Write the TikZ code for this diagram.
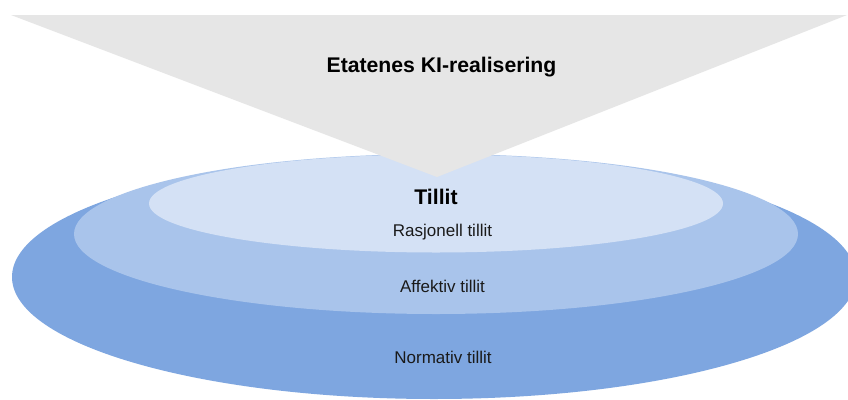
\documentclass[tikz,border=0pt]{standalone}
\usepackage{fontspec}
\setmainfont{Liberation Sans}
\usetikzlibrary{shapes.geometric}
\definecolor{outerblue}{HTML}{7EA6E0}
\definecolor{midblue}{HTML}{A9C4EB}
\definecolor{innerblue}{HTML}{D4E1F5}
\definecolor{trigray}{HTML}{E6E6E6}
\definecolor{labelcol}{HTML}{1A1A1A}
\begin{document}
\begin{tikzpicture}[x=1pt,y=-1pt,
  layer/.style={ellipse,inner sep=0pt,draw=none},
  boldlabel/.style={font=\fontsize{21.2}{24}\selectfont\bfseries,anchor=base,inner sep=0pt,text=black},
  plainlabel/.style={font=\fontsize{17}{20}\selectfont,anchor=base,inner sep=0pt,text=labelcol}]
\useasboundingbox (0,0) rectangle (848,399);
\fill[white] (0,0) rectangle (848,399);
\node[layer,fill=outerblue,minimum width=844pt,minimum height=244pt] (outer) at (434,277) {};
\node[layer,fill=midblue,minimum width=724pt,minimum height=160pt] (middle) at (436,234) {};
\node[layer,fill=innerblue,minimum width=574pt,minimum height=98pt] (inner) at (436,203.5) {};
\coordinate (tl) at (11,15);
\coordinate (tr) at (847,15);
\coordinate (apex) at (437,177);
\fill[trigray] (tl) -- (tr) -- (apex) -- cycle;
\node[boldlabel] (title) at (441.5,72) {Etatenes KI-realisering};
\node[boldlabel] (tillit) at (436,204) {Tillit};
\node[plainlabel] (rasj) at (442.5,236) {Rasjonell tillit};
\node[plainlabel] (affek) at (442.5,292) {Affektiv tillit};
\node[plainlabel] (norm) at (443,363) {Normativ tillit};
\end{tikzpicture}
\end{document}
